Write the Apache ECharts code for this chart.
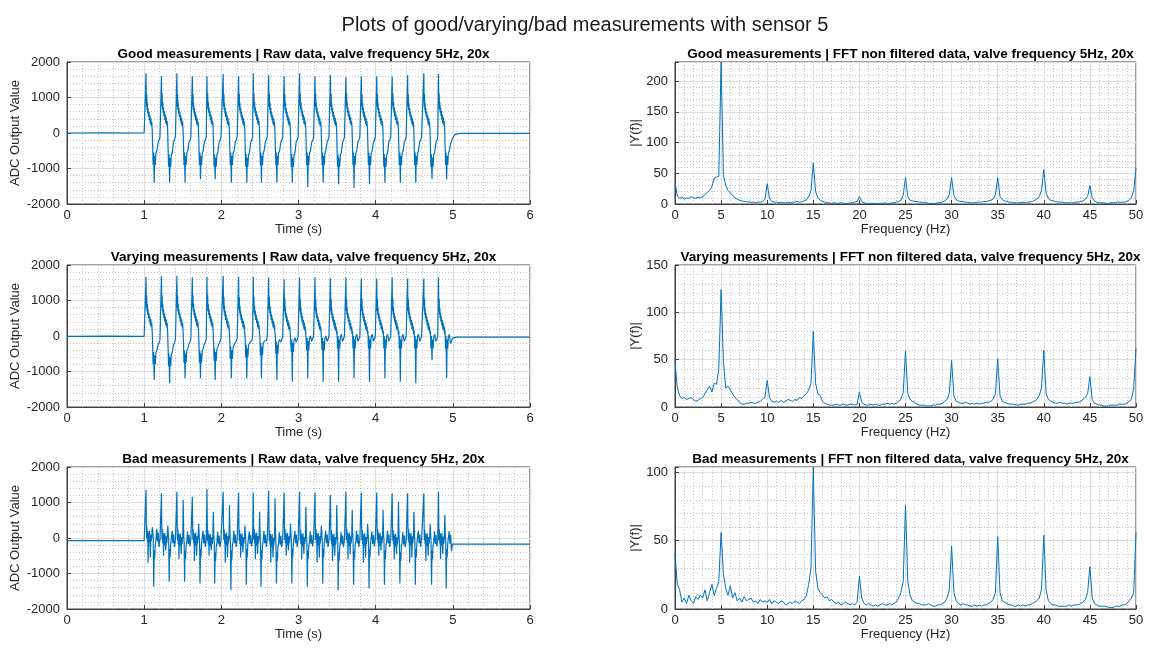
<!DOCTYPE html>
<html>
<head>
<meta charset="utf-8">
<title>Sensor 5 measurements</title>
<script src="https://cdn.jsdelivr.net/npm/echarts@6.0.0/dist/echarts.min.js"></script>
<style>
    html, body {margin: 0; padding: 0; background: #fff;}
    #chart {width: 1149px; height: 653px;}
</style>
</head>
<body>
<div id="chart"></div>
<script>
// spike onsets (s), same valve timing in all three runs
var pulseOnsets = [1.02, 1.22, 1.42, 1.62, 1.81, 2.02, 2.22, 2.41, 2.61, 2.81, 3.01, 3.21, 3.41, 3.61, 3.81, 4.01, 4.21, 4.41, 4.62, 4.81];

// good run, per pulse levels (ADC)
var goodPeak = [1680, 1600, 1680, 1600, 1600, 1660, 1600, 1680, 1630, 1600, 1680, 1600, 1630, 1580, 1600, 1600, 1600, 1630, 1680, 1660];
var goodPlateau = [300, 320, 300, 300, 320, 300, 300, 320, 300, 300, 320, 300, 300, 320, 300, 300, 320, 300, 300, 320];
var goodTrough = [-1400, -1400, -1400, -1300, -1300, -1400, -1400, -1400, -1400, -1400, -1520, -1400, -1440, -1550, -1440, -1400, -1400, -1400, -1300, -1300];
var goodRecover = [-650, -700, -650, -650, -700, -650, -700, -650, -650, -700, -650, -650, -700, -650, -650, -700, -650, -650, -700, -650];
var goodStart = [0, -120, -100, -120, -100, -120, -100, -120, -100, -120, -100, -120, -100, -120, -100, -120, -100, -120, -100, -120];
var goodLead = [[0, 0], [0.5, 5], [1.0, 0]];
var goodTail = [[5.0, -150], [5.03, -40], [5.1, -10], [6, -10]];

// varying run
var varyPeak = [1670, 1690, 1690, 1650, 1670, 1690, 1670, 1670, 1650, 1600, 1650, 1650, 1630, 1650, 1620, 1620, 1650, 1620, 1620, 1650];
var varyPlateau = [350, 350, 350, 350, 350, 300, 300, 300, 300, 250, 250, 250, 250, 250, 250, 250, 250, 250, 250, 250];
var varyTrough = [-1240, -1330, -1190, -1190, -1240, -1190, -1190, -1190, -1240, -1290, -1190, -1290, -1290, -1190, -1290, -1190, -1290, -1330, -680, -1190];
var varyRecover = [-550, -600, -500, -500, -450, -400, -350, -300, -250, -200, -150, -150, -100, -100, -100, -100, -100, -100, -100, -100];
var varyStart = [0, -100, -100, -80, -80, -60, -60, -40, -40, -20, -20, 0, 0, 0, 0, 0, 0, 0, 0, 0];
var varyLead = [[0, -10], [0.5, -5], [1.0, -10]];
var varyTail = [[5.0, -60], [5.05, -30], [6, -30]];

// bad run
var badPeak = [1350, 1260, 1300, 1160, 1370, 1300, 1280, 1280, 1330, 1280, 1300, 1280, 1210, 1300, 1280, 1280, 1260, 1260, 1260, 1300];
var badPlateau = [50, 0, -20, 0, -30, 0, -20, 0, -40, 0, -20, 0, -30, 0, -20, 0, -30, 0, -20, -10];
var badDip = [-700, -500, -600, -650, -500, -700, -550, -600, -700, -500, -600, -700, -650, -600, -700, -500, -600, -700, -650, -600];
var badSecond = [300, 350, 1070, 400, 740, 930, 350, 740, 1120, 400, 880, 350, 930, 790, 400, 790, 1020, 740, 400, 650];
var badTrough = [-1370, -1230, -1230, -1280, -1280, -1470, -1320, -1370, -1280, -1280, -1370, -1280, -1470, -1320, -1420, -1320, -1280, -1320, -1320, -1420];
var badRecover = [-350, -300, -350, -300, -400, -350, -300, -350, -400, -300, -350, -300, -400, -350, -300, -350, -400, -300, -350, -300];
var badStart = [-75, -50, -60, -40, -50, -60, -50, -40, -50, -60, -50, -40, -50, -60, -50, -40, -50, -60, -50, -40];
var badLead = [[0, -75], [0.5, -70], [1.0, -75]];
var badTail = [[5.0, -170], [6, -170]];

// one cycle: [dt, level, offset]
var shapeGood = [
    [0.000, 'E', 0], [0.004, 'P', 0], [0.007, 'M', 700], [0.010, 'M', 450], [0.013, 'M', 800],
    [0.017, 'M', 350], [0.021, 'M', 550], [0.026, 'M', 250], [0.031, 'M', 400], [0.036, 'M', 150],
    [0.042, 'M', 300], [0.048, 'M', 50], [0.054, 'M', 200], [0.060, 'M', -50], [0.066, 'M', 120],
    [0.072, 'M', -100], [0.078, 'M', 20], [0.084, 'M', -200], [0.090, 'R', 250], [0.096, 'R', -250],
    [0.102, 'R', 100], [0.110, 'T', 0], [0.116, 'R', 0], [0.124, 'R', -250], [0.132, 'R', 80],
    [0.145, 'R', 150], [0.160, 'N', -150], [0.175, 'N', -80], [0.185, 'N', 0]
];
var shapeBad = [
    [0.000, 'E', 0], [0.004, 'P', 0], [0.008, 'M', 350], [0.012, 'M', -50], [0.016, 'M', 250],
    [0.021, 'M', -150], [0.026, 'M', 150], [0.031, 'D', 0], [0.036, 'M', 100], [0.042, 'M', -200],
    [0.048, 'M', 150], [0.054, 'M', -150], [0.060, 'D', 150], [0.066, 'M', 50], [0.072, 'M', -150],
    [0.080, 'M', 50], [0.086, 'S', 0], [0.092, 'M', 150], [0.098, 'M', -100], [0.104, 'T', 0],
    [0.110, 'R', 0], [0.116, 'R', -250], [0.124, 'R', 150], [0.132, 'M', -100], [0.142, 'M', 200],
    [0.152, 'M', -150], [0.162, 'M', 100], [0.172, 'N', -200], [0.185, 'N', 0]
];

// FFT magnitudes, 0.25 Hz bins from 0 to 50 Hz
var fftStep = 0.25;
var goodFft = [
    35, 13, 9, 11, 8, 10, 9, 12, 10, 9, 11, 10, 12, 15, 19, 22, 28, 42, 44, 45,
    231, 48, 30, 22, 18, 14, 10, 8, 6, 5, 4, 4, 3, 3, 3, 2, 3, 3, 4, 8,
    33, 9, 4, 3, 3, 2, 3, 2, 2, 3, 2, 3, 3, 4, 3, 4, 5, 7, 12, 22,
    67, 20, 10, 6, 4, 3, 2, 2, 1, 2, 1, 1, 2, 1, 1, 1, 2, 2, 3, 4,
    12, 4, 2, 1, 1, 1, 1, 1, 1, 1, 1, 2, 1, 1, 2, 2, 3, 4, 6, 14,
    43, 12, 6, 5, 4, 4, 3, 3, 2, 3, 1, 1, 1, 1, 2, 2, 3, 5, 8, 15,
    43, 14, 7, 5, 4, 4, 3, 3, 2, 2, 2, 3, 3, 3, 4, 4, 5, 6, 8, 15,
    43, 12, 7, 5, 4, 3, 3, 2, 2, 2, 2, 3, 2, 3, 3, 4, 6, 8, 12, 22,
    56, 18, 9, 6, 5, 4, 3, 3, 3, 2, 2, 2, 2, 2, 3, 3, 4, 5, 8, 12,
    30, 10, 5, 3, 2, 2, 2, 1, 1, 2, 2, 2, 3, 3, 3, 3, 4, 6, 10, 22,
    59
];
var varyFft = [
    48, 20, 12, 9, 10, 8, 9, 10, 8, 6, 7, 9, 10, 14, 18, 22, 16, 25, 24, 40,
    124, 48, 20, 22, 18, 14, 10, 8, 5, 3, 3, 4, 4, 5, 4, 4, 5, 6, 8, 10,
    28, 10, 6, 5, 6, 5, 7, 5, 6, 8, 7, 6, 8, 7, 10, 9, 12, 14, 18, 25,
    80, 25, 14, 12, 6, 4, 3, 2, 2, 2, 3, 2, 2, 3, 2, 2, 3, 3, 2, 3,
    16, 5, 3, 2, 2, 3, 2, 3, 2, 2, 3, 3, 4, 3, 4, 3, 4, 6, 8, 15,
    59, 14, 8, 6, 5, 3, 2, 2, 2, 1, 1, 1, 2, 2, 3, 3, 4, 6, 8, 15,
    49, 12, 6, 5, 4, 4, 5, 4, 3, 4, 3, 4, 3, 4, 4, 5, 5, 6, 8, 14,
    51, 12, 6, 5, 4, 3, 3, 3, 2, 2, 3, 3, 3, 4, 4, 5, 6, 8, 12, 20,
    60, 14, 8, 6, 5, 4, 4, 5, 4, 4, 3, 4, 4, 4, 5, 5, 6, 8, 10, 14,
    32, 8, 4, 3, 2, 2, 1, 1, 1, 2, 2, 2, 2, 3, 3, 3, 4, 6, 8, 20,
    62
];
var badFft = [
    40, 18, 14, 5, 8, 4, 10, 6, 4, 9, 7, 10, 8, 14, 6, 12, 18, 10, 15, 20,
    56, 26, 15, 10, 17, 8, 12, 6, 8, 5, 9, 6, 7, 8, 5, 6, 4, 7, 5, 6,
    5, 7, 4, 6, 5, 4, 6, 5, 3, 4, 5, 4, 6, 5, 4, 6, 7, 10, 18, 30,
    104, 28, 15, 12, 10, 8, 9, 6, 7, 5, 4, 5, 3, 4, 5, 4, 3, 4, 3, 5,
    24, 8, 4, 3, 4, 3, 2, 3, 2, 3, 4, 3, 3, 4, 3, 4, 5, 8, 12, 20,
    76, 20, 10, 6, 5, 4, 4, 3, 3, 3, 4, 3, 2, 2, 3, 3, 4, 5, 8, 14,
    46, 12, 6, 4, 3, 4, 3, 3, 2, 2, 3, 2, 3, 2, 3, 3, 4, 5, 7, 12,
    53, 12, 6, 5, 4, 3, 3, 2, 2, 3, 2, 3, 2, 3, 3, 4, 5, 6, 8, 14,
    54, 14, 6, 4, 3, 3, 2, 2, 2, 2, 2, 3, 2, 3, 3, 3, 4, 5, 7, 12,
    31, 8, 4, 3, 2, 2, 2, 2, 1, 1, 1, 2, 2, 2, 3, 3, 4, 6, 8, 12,
    56
];
var fftMax = [231, 150, 104];
var rowNames = ['Good', 'Varying', 'Bad'];

function buildRaw(lv, shape, lead, tail) {
    var pts = lead.slice();
    for (var k = 0; k < pulseOnsets.length; k++) {
        var ref = {};
        for (var key in lv) ref[key] = lv[key][k];
        ref.N = k + 1 < pulseOnsets.length ? lv.E[k + 1] : tail[0][1];
        shape.forEach(function (s) {
            pts.push([+(pulseOnsets[k] + s[0]).toFixed(3), ref[s[1]] + s[2]]);
        });
    }
    return pts.concat(tail);
}

function fftPairs(vals) {
    return vals.map(function (v, i) { return [+(i * fftStep).toFixed(2), v]; });
}

var rawData = [
    buildRaw({P: goodPeak, M: goodPlateau, T: goodTrough, R: goodRecover, E: goodStart}, shapeGood, goodLead, goodTail),
    buildRaw({P: varyPeak, M: varyPlateau, T: varyTrough, R: varyRecover, E: varyStart}, shapeGood, varyLead, varyTail),
    buildRaw({P: badPeak, M: badPlateau, T: badTrough, R: badRecover, E: badStart, D: badDip, S: badSecond}, shapeBad, badLead, badTail)
];
var fftData = [fftPairs(goodFft), fftPairs(varyFft), fftPairs(badFft)];

var font = "'Liberation Sans', Arial, sans-serif";
var axisColor = '#262626';
var lineColor = '#0072BD';
var leftX = 67, leftW = 463, rightX = 675, rightW = 461;
var rowTop = [62, 265, 467], rowH = 142;

function axisX(gi, max, interval, name) {
    return {
        gridIndex: gi, type: 'value', min: 0, max: max, interval: interval,
        name: name, nameLocation: 'middle', nameGap: 17,
        nameTextStyle: {color: axisColor, fontSize: 13, fontFamily: font},
        axisLine: {show: true, onZero: false, lineStyle: {color: '#404040'}},
        axisTick: {show: true, inside: true, length: 4, lineStyle: {color: '#404040'}},
        axisLabel: {color: axisColor, fontSize: 13, fontFamily: font, margin: 5},
        splitLine: {show: true, lineStyle: {color: '#dedede'}},
        minorTick: {show: false, splitNumber: 5},
        minorSplitLine: {show: true, lineStyle: {color: '#c4c4c4', type: [1, 2]}}
    };
}

function axisY(gi, min, max, interval, name, gap) {
    return {
        gridIndex: gi, type: 'value', min: min, max: max, interval: interval,
        name: name, nameLocation: 'middle', nameGap: gap,
        nameTextStyle: {color: axisColor, fontSize: 13, fontFamily: font},
        axisLine: {show: true, lineStyle: {color: '#404040'}},
        axisTick: {show: true, inside: true, length: 4, lineStyle: {color: '#404040'}},
        axisLabel: {
            color: axisColor, fontSize: 13, fontFamily: font, margin: 7,
            formatter: function (v) { return v % interval === 0 ? String(v) : ''; }
        },
        splitLine: {show: true, lineStyle: {color: '#dedede'}},
        minorTick: {show: false, splitNumber: 5},
        minorSplitLine: {show: min < 0, lineStyle: {color: '#c4c4c4', type: [1, 2]}}
    };
}

// dotted 10-unit grid for the FFT panels
function minorY(gi, max) {
    return {
        gridIndex: gi, type: 'value', position: 'right', min: 0, max: max, interval: 10,
        axisLine: {show: false}, axisTick: {show: false}, axisLabel: {show: false},
        splitLine: {show: true, lineStyle: {color: '#c4c4c4', type: [1, 2]}}
    };
}

var grids = [], xAxes = [], yAxes = [], series = [];
var titles = [{
    text: 'Plots of good/varying/bad measurements with sensor 5',
    left: 580, top: 10, textAlign: 'center',
    textStyle: {fontSize: 20, fontWeight: 'normal', color: '#1a1a1a', fontFamily: font}
}];

rowNames.forEach(function (name, r) {
    var gl = grids.length;
    grids.push({left: leftX, top: rowTop[r], width: leftW, height: rowH, show: true, borderColor: '#404040', borderWidth: 1});
    grids.push({left: rightX, top: rowTop[r], width: rightW, height: rowH, show: true, borderColor: '#404040', borderWidth: 1});

    xAxes.push(axisX(gl, 6, 1, 'Time (s)'));
    xAxes.push(axisX(gl + 1, 50, 5, 'Frequency (Hz)'));

    yAxes.push(minorY(gl + 1, fftMax[r]));
    yAxes.push(axisY(gl, -2000, 2000, 1000, 'ADC Output Value', 45));
    var rawYi = yAxes.length - 1;
    yAxes.push(axisY(gl + 1, 0, fftMax[r], 50, '|Y(f)|', 31));
    var fftYi = yAxes.length - 1;

    series.push({
        type: 'line', xAxisIndex: gl, yAxisIndex: rawYi, data: rawData[r],
        showSymbol: false, lineStyle: {color: lineColor, width: 1.2}, z: 5
    });
    series.push({
        type: 'line', xAxisIndex: gl + 1, yAxisIndex: fftYi, data: fftData[r],
        showSymbol: false, lineStyle: {color: lineColor, width: 1}, z: 5
    });

    titles.push({
        text: name + ' measurements | Raw data, valve frequency 5Hz, 20x',
        left: leftX + leftW / 2, top: rowTop[r] - 20, textAlign: 'center',
        textStyle: {fontSize: 13.5, fontWeight: 'bold', color: '#000', fontFamily: font}
    });
    titles.push({
        text: name + ' measurements | FFT non filtered data, valve frequency 5Hz, 20x',
        left: rightX + rightW / 2, top: rowTop[r] - 20, textAlign: 'center',
        textStyle: {fontSize: 13.5, fontWeight: 'bold', color: '#000', fontFamily: font}
    });
});

var myChart = echarts.init(document.getElementById('chart'));
var option = {
    backgroundColor: '#fff',
    animation: false,
    title: titles,
    grid: grids,
    xAxis: xAxes,
    yAxis: yAxes,
    series: series
};
myChart.setOption(option);
</script>
</body>
</html>
